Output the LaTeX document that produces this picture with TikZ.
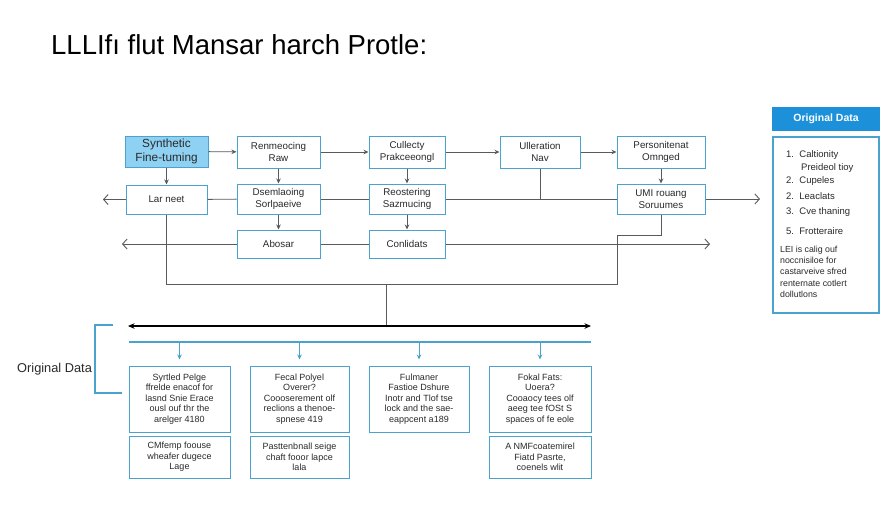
\documentclass[tikz,border=0pt]{standalone}
\usepackage{fontspec}
\setmainfont{Liberation Sans}
\usetikzlibrary{arrows.meta}
\definecolor{boxblue}{HTML}{4AA3CC}
\definecolor{fillblue}{HTML}{8FD1F2}
\definecolor{headblue}{HTML}{1C91DA}
\definecolor{lineg}{HTML}{5A5A5A}
\definecolor{txt}{HTML}{2A2A2A}
\tikzset{
  box/.style={draw=boxblue, line width=1pt, fill=white, align=center, inner sep=0pt,
    text=txt, font=\fontsize{9.8}{11.8}\selectfont},
  sbox/.style={box, font=\fontsize{9}{10.6}\selectfont},
  conn/.style={draw=lineg, line width=0.9pt},
  arr/.style={conn, -{Stealth[length=5pt,width=4.5pt]}},
  barb/.style={conn, -{Straight Barb[length=4.5pt,width=10pt]}},
  bluearr/.style={draw=boxblue, line width=1pt, -{Stealth[length=5pt,width=4.5pt]}, shorten >=6pt},
  listtxt/.style={anchor=west, inner sep=0pt, text=txt, font=\fontsize{9.5}{11}\selectfont},
}
\begin{document}
\begin{tikzpicture}[x=1pt,y=-1pt]
\useasboundingbox (0,0) rectangle (896,512);
\fill[white] (0,0) rectangle (896,512);

% title
\node[anchor=west, inner sep=0pt, font=\fontsize{27.5}{32}\selectfont] (title) at (51,45) {LLLIfı flut Mansar harch Protle:};

% top row
\node[box, fill=fillblue, minimum width=83pt, minimum height=31pt, font=\fontsize{11.8}{13.5}\selectfont] (A) at (166.5,151.5) {Synthetic\\Fine-tuming};
\node[box, minimum width=83pt, minimum height=32pt] (B) at (278.5,152) {Renmeocing\\Raw};
\node[box, minimum width=76pt, minimum height=32pt] (C) at (407,152) {Cullecty\\Prakceeongl};
\node[box, minimum width=80pt, minimum height=32pt] (D) at (540,152) {Ulleration\\Nav};
\node[box, minimum width=88pt, minimum height=32pt] (E) at (661,152) {Personitenat\\Omnged};

% second row
\node[box, minimum width=81pt, minimum height=29pt] (F) at (166.5,199.5) {Lar neet};
\node[box, minimum width=83pt, minimum height=30pt] (G) at (278.5,199) {Dsemlaoing\\Sorlpaeive};
\node[box, minimum width=76pt, minimum height=30pt] (H) at (407,199) {Reostering\\Sazmucing};
\node[box, minimum width=88pt, minimum height=30pt] (I) at (661,199) {UMI rouang\\Soruumes};

% third row
\node[box, minimum width=83pt, minimum height=28pt] (J) at (278.5,244) {Abosar};
\node[box, minimum width=76pt, minimum height=28pt] (K) at (407,244) {Conlidats};

% free ends
\coordinate (Fout) at (103,199.5);
\coordinate (Iout) at (760,199);
\coordinate (Jout) at (122,244);
\coordinate (Kout) at (710,244);
\coordinate (j1) at (617,284);
\coordinate (j2) at (617,235);
\coordinate (hub) at (386,284);
\coordinate (bus) at (386,326);
\coordinate (bl) at (128,326);
\coordinate (br) at (591,326);
\coordinate (ll) at (129,342);
\coordinate (lr) at (591,342);

% top row arrows
\draw[arr] (A) -- (B);
\draw[arr] (B) -- (C);
\draw[arr] (C) -- (D);
\draw[arr] (D) -- (E);
% verticals
\draw[arr] (A) -- (F);
\draw[arr] (B) -- (G);
\draw[arr] (C) -- (H);
\draw[arr] (E) -- (I);
\draw[arr] (G) -- (J);
\draw[arr] (H) -- (K);
% row 2 line
\draw[barb] (F) -- (Fout);
\draw[conn] (F) -- (G);
\draw[conn] (G) -- (H);
\draw[conn] (H) -- (I);
\draw[barb] (I) -- (Iout);
\draw[conn] (D.south) -- (D.south |- H.center);
% row 3 line
\draw[barb] (J) -- (Jout);
\draw[conn] (J) -- (K);
\draw[barb] (K) -- (Kout);
% collector
\draw[conn] (F.south) |- (j1) -- (j2) -| (I.south);
\draw[conn] (hub) -- (bus);
\draw[line width=1.4pt, black, {Stealth[length=6.5pt,width=5.5pt]}-{Stealth[length=6.5pt,width=5.5pt]}] (bl) -- (br);
\draw[draw=boxblue, line width=1.1pt] (ll) -- (lr);

% bottom boxes
\node[sbox, minimum width=101pt, minimum height=66pt] (L1) at (179.5,399) {Syrtled Pelge\\ffrelde enacof for\\lasnd Snie Erace\\ousl ouf thr the\\arelger 4180};
\node[sbox, minimum width=101pt, minimum height=42pt] (L2) at (179.5,457) {CMfemp foouse\\wheafer dugece\\Lage};
\node[sbox, minimum width=99pt, minimum height=66pt] (M1) at (299.5,399) {Fecal Polyel\\Overer?\\Coooserement olf\\reclions a thenoe-\\spnese 419};
\node[sbox, minimum width=99pt, minimum height=42pt] (M2) at (299.5,457) {Pasttenbnall seige\\chaft fooor lapce\\lala};
\node[sbox, minimum width=100pt, minimum height=66pt] (N1) at (419,399) {Fulmaner\\Fastioe Dshure\\Inotr and Tlof tse\\lock and the sae-\\eappcent a189};
\node[sbox, minimum width=102pt, minimum height=66pt] (O1) at (540,399) {Fokal Fats:\\Uoera?\\Cooaocy tees olf\\aeeg tee fOSt S\\spaces of fe eole};
\node[sbox, minimum width=102pt, minimum height=42pt] (O2) at (540,457) {A NMFcoatemirel\\Fiatd Pasrte,\\coenels wlit};

\draw[bluearr] (L1.north |- ll) -- (L1.north);
\draw[bluearr] (M1.north |- ll) -- (M1.north);
\draw[bluearr] (N1.north |- ll) -- (N1.north);
\draw[bluearr] (O1.north |- ll) -- (O1.north);

% left label and bracket
\node[anchor=west, inner sep=0pt, text=txt, font=\fontsize{12.8}{15}\selectfont] (orig) at (17,369) {Original Data};
\coordinate (b1) at (113,325);
\coordinate (b2) at (95,325);
\coordinate (b3) at (95,393);
\coordinate (b4) at (122,393);
\draw[draw=boxblue, line width=1.1pt] (b1) -- (b2) -- (b3) -- (b4);

% right panel
\node[fill=headblue, text=white, inner sep=0pt, minimum width=108pt, minimum height=24pt, font=\bfseries\fontsize{10.5}{12}\selectfont] (head) at (826,119) {Original Data};
\node[draw=boxblue, line width=1.1pt, fill=white, inner sep=0pt, minimum width=106pt, minimum height=176pt] (panel) at (826,225) {};
\node[listtxt] (l1) at (786,155) {1.\ \ Caltionity};
\node[listtxt] (l1b) at (801,168) {Preideol tioy};
\node[listtxt] (l2) at (786,181) {2.\ \ Cupeles};
\node[listtxt] (l3) at (786,196) {2.\ \ Leaclats};
\node[listtxt] (l4) at (786,212) {3.\ \ Cve thaning};
\node[listtxt] (l5) at (786,231) {5.\ \ Frotteraire};
\node[listtxt, anchor=north west, align=left, font=\fontsize{8.8}{11.2}\selectfont] (para) at (780,246) {LEI is calig ouf\\noccnisiloe for\\castarveive sfred\\renternate cotlert\\dollutlons};
\end{tikzpicture}
\end{document}
